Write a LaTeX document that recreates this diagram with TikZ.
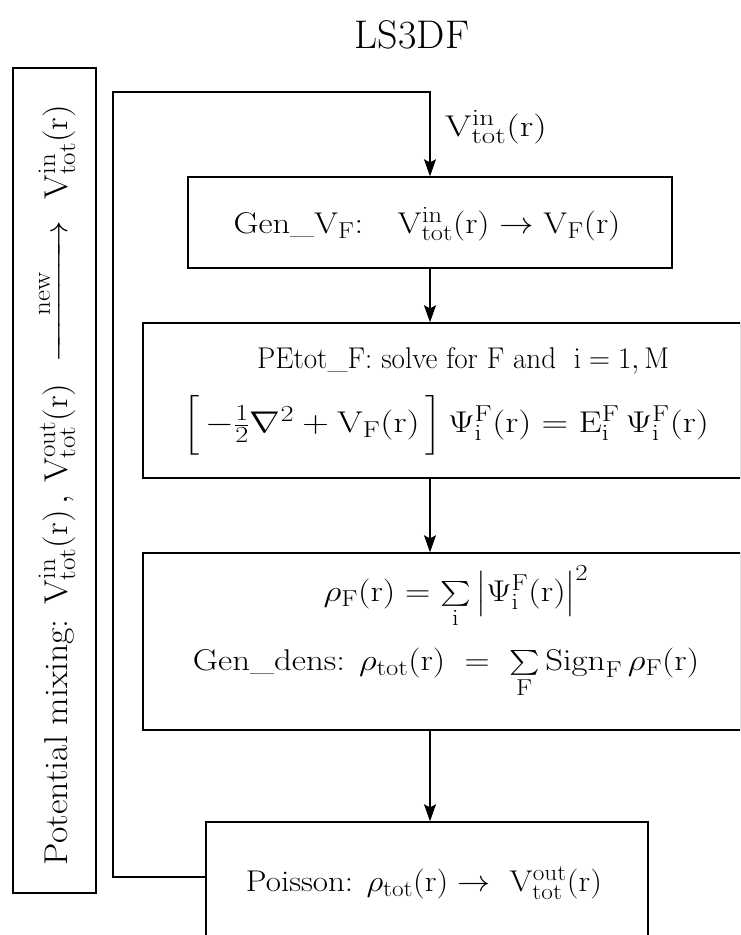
\RequirePackage{fix-cm}
\documentclass[tikz,border=0pt]{standalone}
\usepackage{amsmath}
\usepackage{graphicx}
\usetikzlibrary{arrows.meta}
\DeclareMathSizes{30}{30}{23}{18}
\DeclareMathSizes{33}{33}{25}{20}
\newcommand\rmr{(\mathrm{r})}
\newcommand\Vtotin{\mathrm{V}^{\mathrm{in}}_{\mathrm{tot}}\rmr}
\newcommand\Vtotout{\mathrm{V}^{\mathrm{out}}_{\mathrm{tot}}\rmr}
\newcommand\PsiF{\Psi^{\mathrm{F}}_{\mathrm{i}}\rmr}
\newcommand\hs[2]{\scalebox{#1}[1]{#2}}
\begin{document}
\begin{tikzpicture}[x=1pt,y=-1pt,
  box/.style={draw, line width=1.4pt, inner sep=0pt},
  flow/.style={line width=1.4pt, -{Stealth[length=17pt,width=12pt,inset=3pt]}},
  txt/.style={inner sep=0pt, font=\fontsize{30}{36}\selectfont},
  rtxt/.style={inner sep=0pt, font=\fontsize{33}{40}\selectfont},
  ttl/.style={inner sep=0pt, font=\fontsize{40}{46}\selectfont}]
\useasboundingbox (0,0) rectangle (740,935);
\clip (0,0) rectangle (740,935);
% title
\node[ttl] (title) at (412,35) {LS3DF};
% boxes
\node[box, minimum width=83pt, minimum height=825pt] (mix) at (54.5,480.5) {};
\node[box, minimum width=484pt, minimum height=91pt] (genv) at (430,222.5) {};
\node[box, minimum width=598pt, minimum height=155pt] (pe) at (442,400.5) {};
\node[box, minimum width=598pt, minimum height=177pt] (dens) at (442,641.5) {};
\node[box, minimum width=442pt, minimum height=140pt] (pois) at (427,892) {};
% texts
\node[rtxt, rotate=90] (mixt) at (56,485) {\hs{1.08}{Potential mixing: $\Vtotin\,,\,\Vtotout\ \xrightarrow{\hspace{1.1em}\mathrm{new}\hspace{1.1em}}\ \Vtotin$}};
\node[txt] (vin) at (496,127) {\hs{1.27}{$\Vtotin$}};
\node[txt] (genvt) at (427,224) {\hs{1.15}{Gen\_V$_{\mathrm{F}}$:\quad $\Vtotin\to\mathrm{V}_{\mathrm{F}}\rmr$}};
\node[txt] (pet1) at (463,361) {\hs{0.97}{PEtot\_F: solve for F and\ \ $\mathrm{i}=1,\mathrm{M}$}};
\node[txt] (pet2) at (446,425) {\hs{1.23}{$\Bigl[\,-\tfrac{1}{2}\nabla^{2}+\mathrm{V}_{\mathrm{F}}\rmr\,\Bigr]\,\PsiF=\mathrm{E}^{\mathrm{F}}_{\mathrm{i}}\,\PsiF$}};
\node[txt] (dt1) at (456,597) {\hs{1.17}{$\rho_{\mathrm{F}}\rmr=\sum\limits_{\mathrm{i}}\,\bigl|\PsiF\bigr|^{2}$}};
\node[txt] (dt2) at (446,673) {\hs{1.16}{Gen\_dens: $\rho_{\mathrm{tot}}\rmr\;=\;\sum\limits_{\mathrm{F}}\mathrm{Sign}_{\mathrm{F}}\,\rho_{\mathrm{F}}\rmr$}};
\node[txt] (pt) at (424,883) {\hs{1.1}{Poisson: $\rho_{\mathrm{tot}}\rmr\to\ \Vtotout$}};
% connectors
\coordinate (lp) at (0,877);
\coordinate (lc) at (113,92);
\draw[flow] (pois.west |- lp) -| (lc) -| (genv.north);
\draw[flow] (genv.south) -- (genv.south |- pe.north);
\draw[flow] (genv.south |- pe.south) -- (genv.south |- dens.north);
\draw[flow] (genv.south |- dens.south) -- (genv.south |- pois.north);
\end{tikzpicture}
\end{document}
